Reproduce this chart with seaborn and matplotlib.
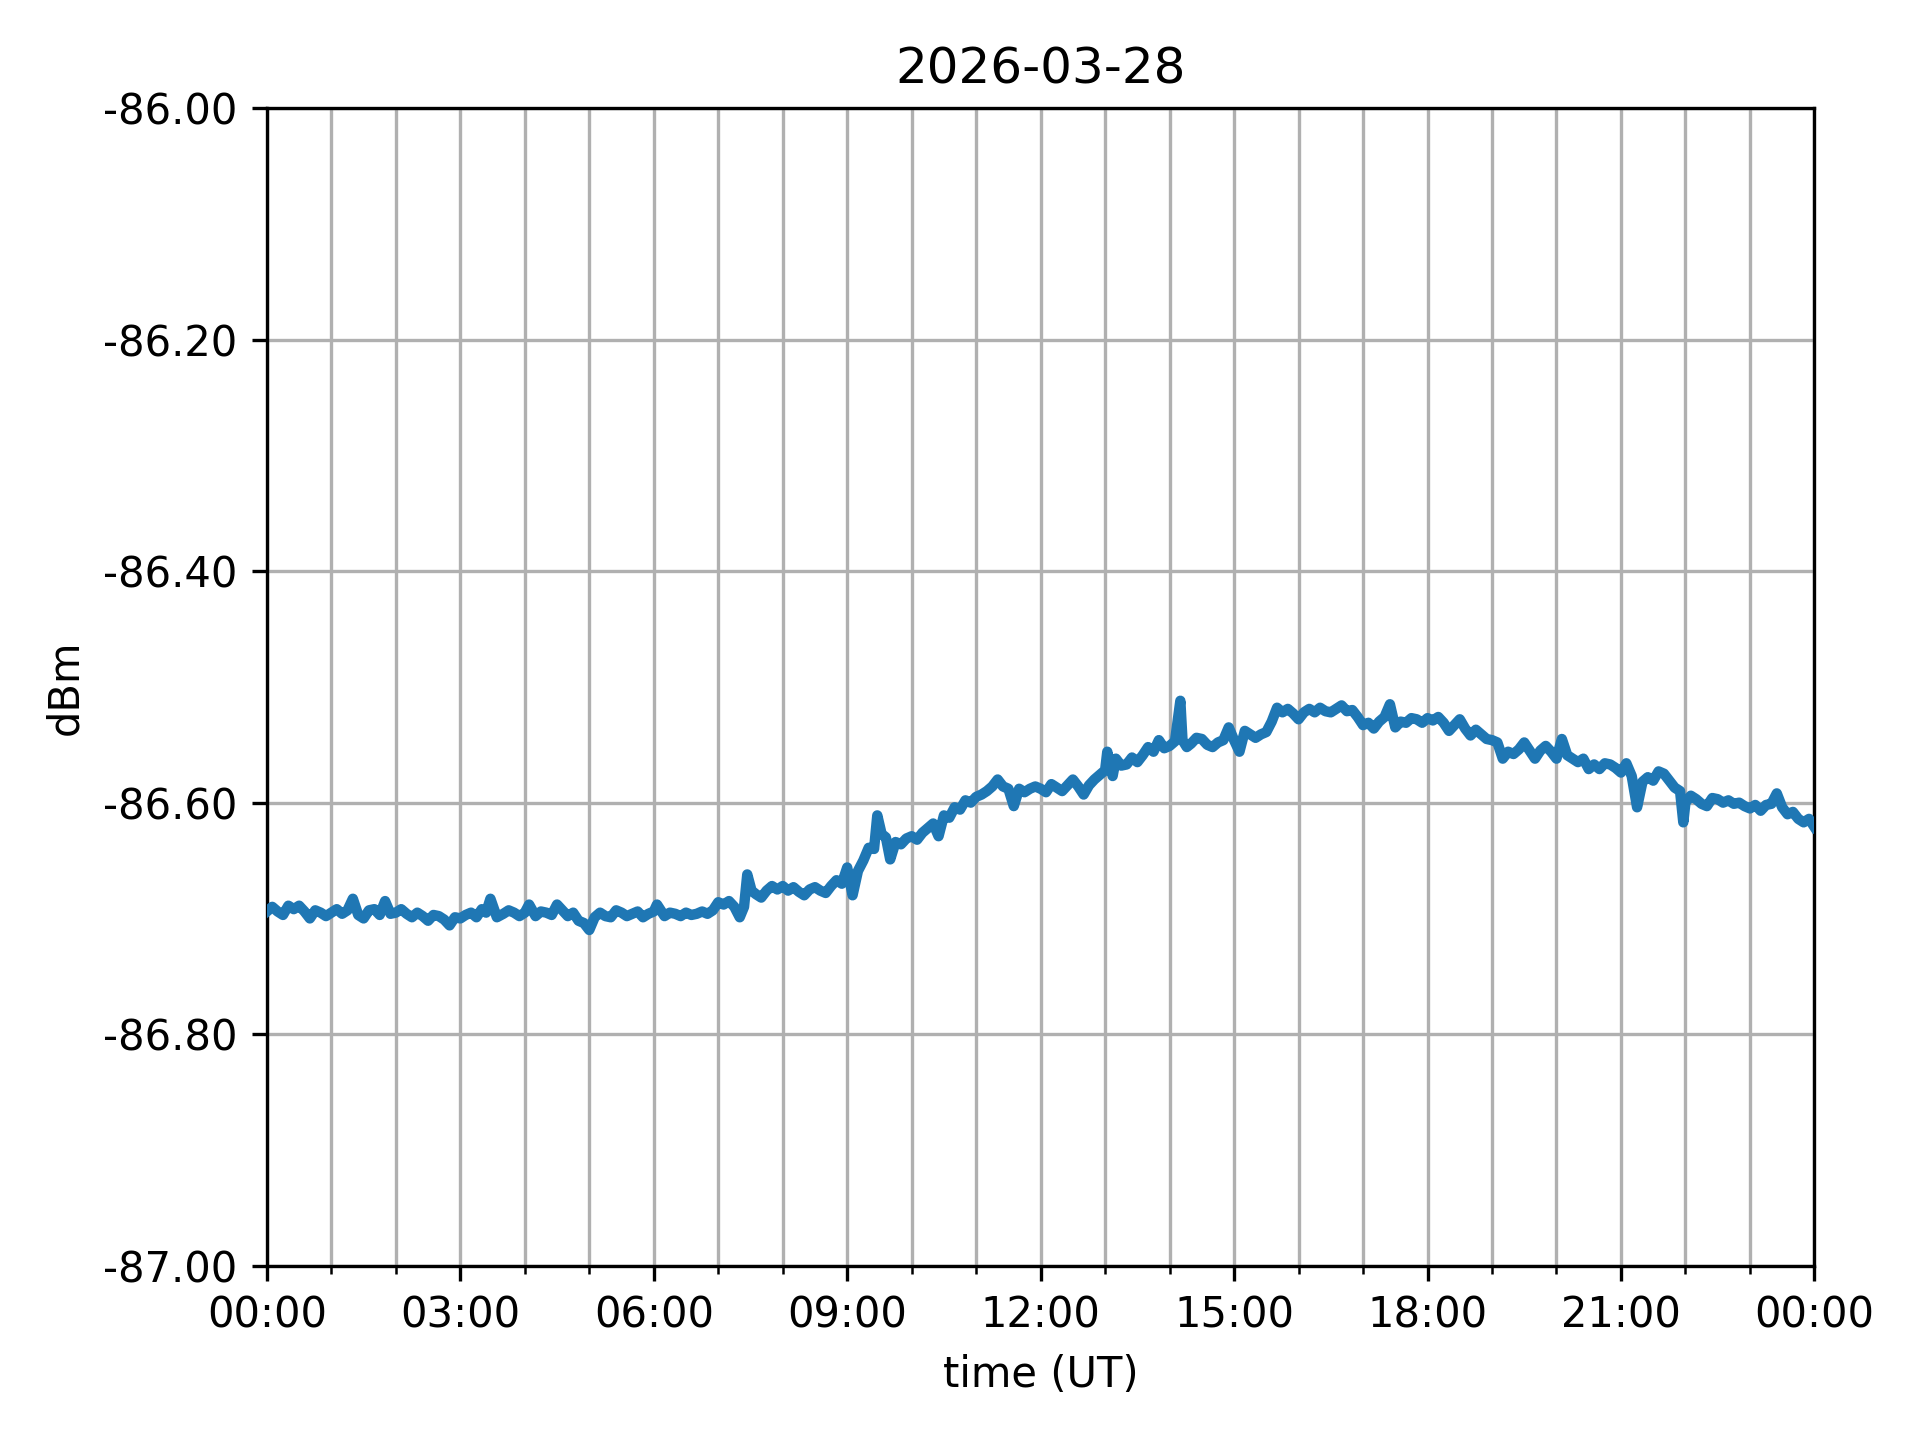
import numpy as np
import pandas as pd
import matplotlib
matplotlib.use("Agg")
import matplotlib.pyplot as plt
import matplotlib.dates as mdates
from matplotlib.ticker import FormatStrFormatter
import seaborn as sns

DAY = "2026-03-28"

# minutes after midnight (UT), one row per hour
minutes = [
    0, 5, 10, 15, 20, 25, 30, 35, 40, 45, 50, 55,
    60, 65, 70, 75, 80, 85, 90, 95, 100, 105, 110, 115,
    120, 125, 130, 135, 140, 145, 150, 155, 160, 165, 170, 175,
    180, 185, 190, 195, 200, 204, 208, 214, 220, 225, 230, 235,
    240, 244, 250, 255, 260, 265, 270, 275, 280, 285, 290, 295,
    300, 305, 310, 315, 320, 325, 330, 335, 340, 345, 350, 355,
    360, 363, 370, 375, 380, 385, 390, 395, 400, 405, 410, 415,
    420, 425, 430, 435, 440, 444, 447, 451, 455, 460, 465, 470, 475,
    480, 485, 490, 495, 500, 505, 510, 515, 520, 525, 530, 535,
    540, 545, 550, 555, 560, 565, 568, 572, 576, 580, 585, 590, 595,
    600, 605, 610, 615, 620, 625, 630, 635, 640, 645, 650, 655,
    660, 665, 670, 675, 680, 685, 690, 695, 700, 705, 710, 715,
    720, 725, 730, 735, 740, 745, 750, 755, 760, 765, 770, 775,
    780, 782, 787, 790, 795, 800, 805, 810, 815, 820, 825, 830, 835,
    840, 845, 850, 852, 856, 860, 865, 870, 875, 880, 885, 890, 895,
    900, 905, 910, 915, 920, 925, 930, 935, 940, 945, 950, 955,
    960, 965, 970, 975, 980, 985, 990, 995, 1000, 1005, 1010, 1015,
    1020, 1025, 1030, 1035, 1040, 1045, 1050, 1055, 1060, 1065, 1070, 1075,
    1080, 1085, 1090, 1095, 1100, 1105, 1110, 1115, 1120, 1125, 1130, 1135,
    1140, 1145, 1150, 1155, 1160, 1165, 1170, 1175, 1180, 1185, 1190, 1195,
    1200, 1205, 1210, 1215, 1220, 1225, 1230, 1235, 1240, 1245, 1250, 1255,
    1260, 1265, 1270, 1275, 1280, 1285, 1290, 1295, 1300, 1305, 1310, 1315,
    1318, 1320, 1325, 1330, 1335, 1340, 1345, 1350, 1355, 1360, 1365, 1370, 1375,
    1380, 1385, 1390, 1395, 1400, 1405, 1410, 1415, 1420, 1425, 1430, 1435, 1440,
]

# received level in dBm, same row layout as minutes
dbm = [
    -86.694, -86.690, -86.694, -86.697, -86.689, -86.692, -86.689, -86.694, -86.700, -86.693, -86.695, -86.698,
    -86.695, -86.692, -86.696, -86.693, -86.683, -86.697, -86.700, -86.693, -86.692, -86.697, -86.685, -86.696,
    -86.695, -86.692, -86.696, -86.699, -86.695, -86.698, -86.702, -86.697, -86.698, -86.701, -86.706, -86.699,
    -86.700, -86.697, -86.695, -86.699, -86.692, -86.695, -86.683, -86.699, -86.696, -86.693, -86.695, -86.698,
    -86.695, -86.688, -86.698, -86.694, -86.695, -86.697, -86.688, -86.693, -86.698, -86.695, -86.702, -86.704,
    -86.710, -86.699, -86.695, -86.698, -86.699, -86.693, -86.695, -86.698, -86.696, -86.694, -86.699, -86.696,
    -86.694, -86.688, -86.698, -86.695, -86.696, -86.698, -86.695, -86.697, -86.696, -86.694, -86.696, -86.693,
    -86.686, -86.688, -86.685, -86.690, -86.699, -86.690, -86.662, -86.676, -86.679, -86.682, -86.676, -86.672, -86.675,
    -86.672, -86.676, -86.673, -86.677, -86.680, -86.675, -86.673, -86.676, -86.678, -86.672, -86.667, -86.670,
    -86.656, -86.680, -86.659, -86.650, -86.639, -86.640, -86.611, -86.627, -86.630, -86.649, -86.634, -86.636, -86.631,
    -86.629, -86.632, -86.626, -86.622, -86.618, -86.629, -86.611, -86.613, -86.604, -86.606, -86.598, -86.600,
    -86.595, -86.593, -86.590, -86.586, -86.580, -86.586, -86.588, -86.603, -86.588, -86.591, -86.588, -86.586,
    -86.588, -86.591, -86.584, -86.587, -86.590, -86.585, -86.580, -86.586, -86.593, -86.585, -86.580, -86.576,
    -86.572, -86.556, -86.577, -86.562, -86.568, -86.567, -86.561, -86.565, -86.559, -86.552, -86.556, -86.546, -86.553,
    -86.551, -86.547, -86.512, -86.546, -86.552, -86.549, -86.544, -86.545, -86.550, -86.552, -86.548, -86.546, -86.535,
    -86.546, -86.556, -86.538, -86.541, -86.544, -86.541, -86.539, -86.530, -86.518, -86.522, -86.519, -86.523,
    -86.528, -86.522, -86.519, -86.522, -86.518, -86.521, -86.522, -86.519, -86.516, -86.521, -86.520, -86.526,
    -86.533, -86.531, -86.536, -86.530, -86.526, -86.515, -86.535, -86.530, -86.531, -86.527, -86.528, -86.531,
    -86.527, -86.529, -86.526, -86.531, -86.538, -86.533, -86.528, -86.536, -86.542, -86.537, -86.541, -86.545,
    -86.546, -86.548, -86.562, -86.556, -86.558, -86.554, -86.548, -86.555, -86.562, -86.555, -86.551, -86.556,
    -86.562, -86.545, -86.559, -86.562, -86.565, -86.562, -86.571, -86.567, -86.571, -86.566, -86.567, -86.570,
    -86.574, -86.566, -86.577, -86.604, -86.582, -86.578, -86.581, -86.573, -86.575, -86.581, -86.587, -86.590,
    -86.617, -86.600, -86.594, -86.597, -86.601, -86.603, -86.596, -86.597, -86.600, -86.598, -86.601, -86.600, -86.603,
    -86.605, -86.602, -86.607, -86.602, -86.601, -86.592, -86.604, -86.610, -86.608, -86.614, -86.617, -86.614, -86.621,
]

y_ticks = [-87.0, -86.8, -86.6, -86.4, -86.2, -86.0]

assert len(minutes) == len(dbm)

start = pd.Timestamp(DAY)
df = pd.DataFrame({
    "time": start + pd.to_timedelta(minutes, unit="min"),
    "dbm": dbm,
})

fig, ax = plt.subplots(figsize=(6.4, 4.8), dpi=300)
fig.subplots_adjust(left=0.139, right=0.945, top=0.925, bottom=0.121)

sns.lineplot(data=df, x="time", y="dbm", ax=ax, color="#1f77b4",
             linewidth=2.5, sort=False, zorder=3)

ax.set_xlim(start, start + pd.Timedelta(days=1))
ax.set_ylim(y_ticks[0], y_ticks[-1])
ax.set_yticks(y_ticks)
ax.yaxis.set_major_formatter(FormatStrFormatter("%.2f"))

ax.xaxis.set_major_locator(mdates.HourLocator(byhour=range(0, 24, 3)))
ax.xaxis.set_minor_locator(mdates.HourLocator())
ax.xaxis.set_major_formatter(mdates.DateFormatter("%H:%M"))

ax.xaxis.grid(True, which="both", color="#b0b0b0", linewidth=0.8)
ax.yaxis.grid(True, which="major", color="#b0b0b0", linewidth=0.8)
ax.set_axisbelow(True)

ax.set_title(DAY)
ax.set_xlabel("time (UT)")
ax.set_ylabel("dBm")

fig.savefig("out.png", dpi=300)
